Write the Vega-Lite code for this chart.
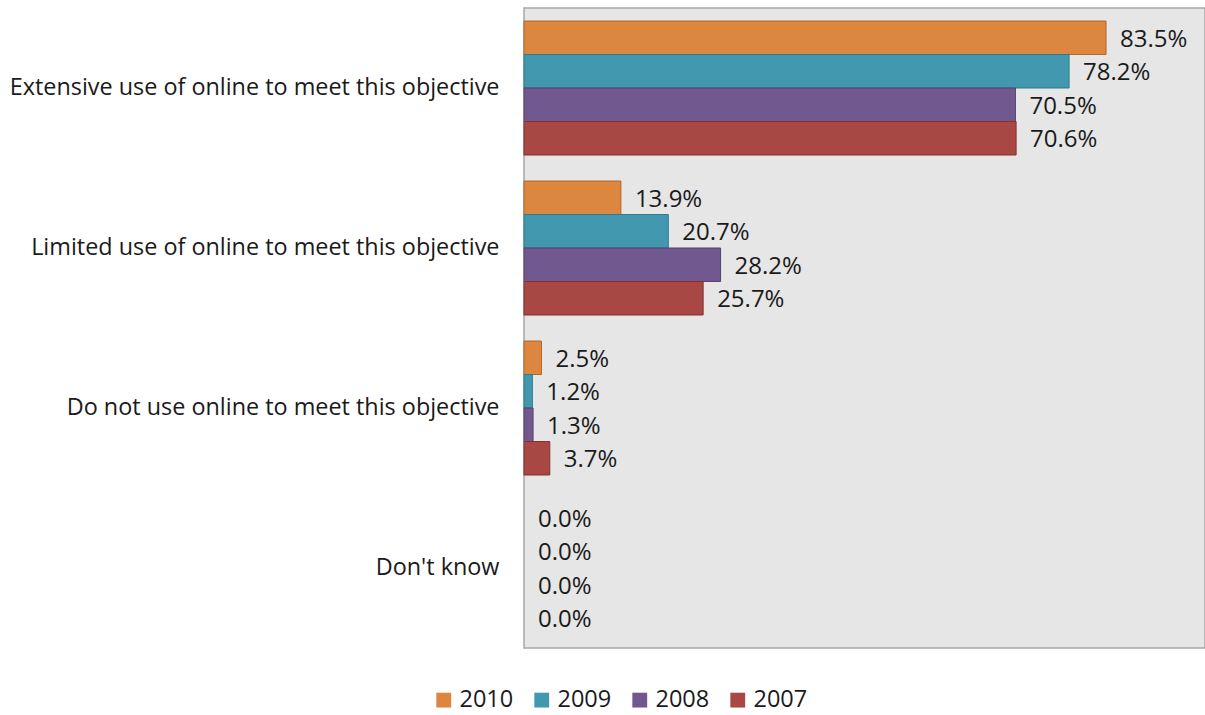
{
  "$schema": "https://vega.github.io/schema/vega-lite/v6.json",
  "autosize": "none",
  "width": 681,
  "height": 640,
  "padding": {"left": 524, "top": 8, "right": 0, "bottom": 67},
  "background": "white",
  "config": {
    "view": {"fill": "#e6e6e6", "stroke": "#a6a6a6", "strokeWidth": 1.5},
    "font": "Open Sans"
  },
  "data": {
    "values": [
      {"category": "Extensive use of online to meet this objective", "year": "2010", "value": 0.835},
      {"category": "Extensive use of online to meet this objective", "year": "2009", "value": 0.782},
      {"category": "Extensive use of online to meet this objective", "year": "2008", "value": 0.705},
      {"category": "Extensive use of online to meet this objective", "year": "2007", "value": 0.706},
      {"category": "Limited use of online to meet this objective", "year": "2010", "value": 0.139},
      {"category": "Limited use of online to meet this objective", "year": "2009", "value": 0.207},
      {"category": "Limited use of online to meet this objective", "year": "2008", "value": 0.282},
      {"category": "Limited use of online to meet this objective", "year": "2007", "value": 0.257},
      {"category": "Do not use online to meet this objective", "year": "2010", "value": 0.025},
      {"category": "Do not use online to meet this objective", "year": "2009", "value": 0.012},
      {"category": "Do not use online to meet this objective", "year": "2008", "value": 0.013},
      {"category": "Do not use online to meet this objective", "year": "2007", "value": 0.037},
      {"category": "Don't know", "year": "2010", "value": 0.0},
      {"category": "Don't know", "year": "2009", "value": 0.0},
      {"category": "Don't know", "year": "2008", "value": 0.0},
      {"category": "Don't know", "year": "2007", "value": 0.0}
    ]
  },
  "encoding": {
    "y": {
      "field": "category",
      "type": "nominal",
      "sort": null,
      "scale": {"paddingInner": 0.1625, "paddingOuter": 0.08125},
      "axis": {
        "title": null,
        "domain": false,
        "ticks": false,
        "labelPadding": 25,
        "labelFontSize": 23.4,
        "labelColor": "#1a1a1a",
        "labelFont": "Open Sans",
        "labelLimit": 600
      }
    },
    "yOffset": {
      "field": "year",
      "type": "nominal",
      "sort": ["2010", "2009", "2008", "2007"],
      "scale": {"paddingInner": 0, "paddingOuter": 0}
    },
    "x": {
      "field": "value",
      "type": "quantitative",
      "scale": {"domain": [0, 0.977], "nice": false},
      "axis": null
    }
  },
  "layer": [
    {
      "mark": {"type": "bar", "strokeWidth": 1},
      "encoding": {
        "fill": {
          "field": "year",
          "type": "nominal",
          "sort": ["2010", "2009", "2008", "2007"],
          "scale": {
            "domain": ["2010", "2009", "2008", "2007"],
            "range": ["#dd8640", "#4198af", "#71588f", "#a84744"]
          },
          "legend": {
            "title": null,
            "orient": "none",
            "direction": "horizontal",
            "legendX": -92,
            "legendY": 680,
            "symbolType": "square",
            "symbolSize": 220,
            "symbolStrokeWidth": 0,
            "labelFontSize": 23.5,
            "labelFont": "Open Sans",
            "labelColor": "#1a1a1a",
            "columnPadding": 16,
            "labelOffset": 4
          }
        },
        "stroke": {
          "field": "year",
          "type": "nominal",
          "scale": {
            "domain": ["2010", "2009", "2008", "2007"],
            "range": ["#b4662a", "#2f7a8e", "#56406f", "#863130"]
          },
          "legend": null
        },
        "strokeOpacity": {
          "condition": {"test": "datum.value == 0", "value": 0},
          "value": 1
        }
      }
    },
    {
      "mark": {"type": "text", "align": "left", "baseline": "middle", "dx": 14, "dy": 2, "fontSize": 24, "color": "#1a1a1a", "font": "Open Sans"},
      "encoding": {
        "text": {"field": "value", "type": "quantitative", "format": ".1%"}
      }
    }
  ]
}
